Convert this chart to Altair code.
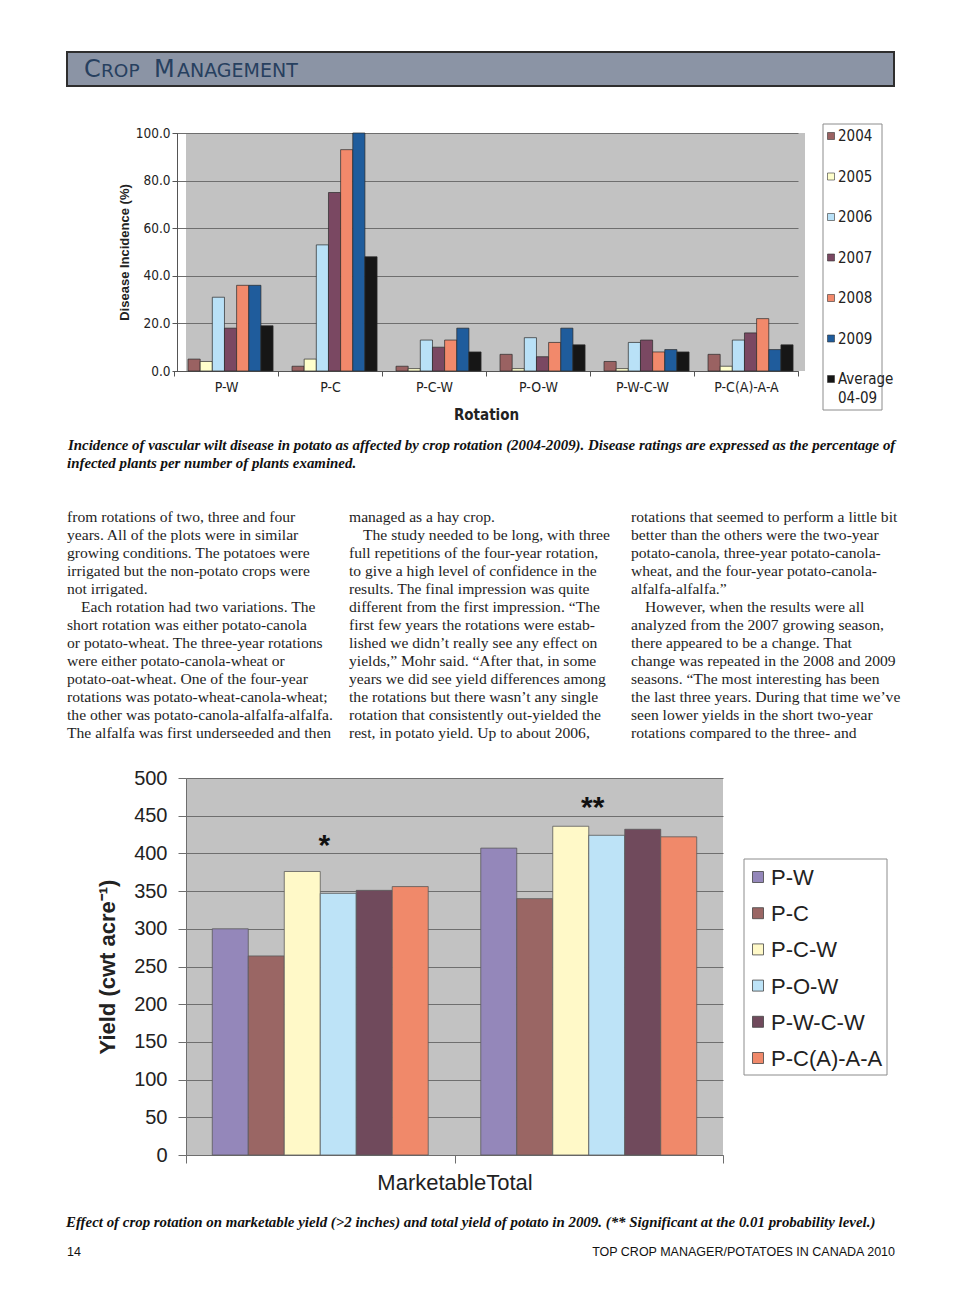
import altair as alt
import pandas as pd

# ---------------- data ----------------
rotations = ["P-W", "P-C", "P-C-W", "P-O-W", "P-W-C-W", "P-C(A)-A-A"]
years = ["2004", "2005", "2006", "2007", "2008", "2009", "Average 04-09"]
inc_2004 = [5, 2, 2, 7, 4, 7]
inc_2005 = [4, 5, 1, 1, 1, 2]
inc_2006 = [31, 53, 13, 14, 12, 13]
inc_2007 = [18, 75, 10, 6, 13, 16]
inc_2008 = [36, 93, 13, 12, 8, 22]
inc_2009 = [36, 100, 18, 18, 9, 9]
inc_avg = [19, 48, 8, 11, 8, 11]
incidence_ticks = [0, 20, 40, 60, 80, 100]

yield_groups = ["Marketable", "Total"]
yield_marketable = [300, 264, 376, 347, 351, 356]
yield_total = [407, 340, 436, 424, 432, 422]
yield_ticks = [0, 50, 100, 150, 200, 250, 300, 350, 400, 450, 500]
signif_labels = ["*", "**"]
signif_values = [398, 448]

header_parts = ["C", "ROP", "M", "ANAGEMENT"]
caption_top = [
    "Incidence of vascular wilt disease in potato as affected by crop rotation (2004-2009). Disease ratings are expressed as the percentage of",
    "infected plants per number of plants examined.",
]
caption_bottom = "Effect of crop rotation on marketable yield (>2 inches) and total yield of potato in 2009.  (** Significant at the 0.01 probability level.)"
footer_left = "14"
footer_right = "TOP CROP MANAGER/POTATOES IN CANADA 2010"

col1 = [
    "from rotations of two, three and four",
    "years. All of the plots were in similar",
    "growing conditions. The potatoes were",
    "irrigated but the non-potato crops were",
    "not irrigated.",
    "\tEach rotation had two variations. The",
    "short rotation was either potato-canola",
    "or potato-wheat. The three-year rotations",
    "were either potato-canola-wheat or",
    "potato-oat-wheat. One of the four-year",
    "rotations was potato-wheat-canola-wheat;",
    "the other was potato-canola-alfalfa-alfalfa.",
    "The alfalfa was first underseeded and then",
]
col2 = [
    "managed as a hay crop.",
    "\tThe study needed to be long, with three",
    "full repetitions of the four-year rotation,",
    "to give a high level of confidence in the",
    "results. The final impression was quite",
    "different from the first impression. \u201cThe",
    "first few years the rotations were estab-",
    "lished we didn\u2019t really see any effect on",
    "yields,\u201d Mohr said. \u201cAfter that, in some",
    "years we did see yield differences among",
    "the rotations but there wasn\u2019t any single",
    "rotation that consistently out-yielded the",
    "rest, in potato yield. Up to about 2006,",
]
col3 = [
    "rotations that seemed to perform a little bit",
    "better than the others were the two-year",
    "potato-canola, three-year potato-canola-",
    "wheat, and the four-year potato-canola-",
    "alfalfa-alfalfa.\u201d",
    "\tHowever, when the results were all",
    "analyzed from the 2007 growing season,",
    "there appeared to be a change. That",
    "change was repeated in the 2008 and 2009",
    "seasons. \u201cThe most interesting has been",
    "the last three years. During that time we\u2019ve",
    "seen lower yields in the short two-year",
    "rotations compared to the three- and",
]

# ---------------- styles ----------------
NARROW = "Liberation Sans Narrow, DejaVu Sans Condensed, Liberation Sans, Arial, sans-serif"
SANS = "Liberation Sans, Arial, sans-serif"
SERIF = "Liberation Serif, Times New Roman, serif"
HEAD = "DejaVu Sans, Liberation Sans, sans-serif"
top_colors = ["#9a6262", "#ffffcc", "#b9e1f7", "#7a4862", "#f2896b", "#1f5c9c", "#161616"]
yield_colors = ["#9487ba", "#9a6664", "#fff9c8", "#bde3f7", "#704a5c", "#f0896a"]
PLOT_BG = "#c2c2c2"
GRID = "#6e6e6e"
TEXT = "#222222"

# grid columns (page is 944 px wide inside the 8 px margin)
C0, C1, C2 = 178, 619, 147

one = pd.DataFrame({"k": [0]})


def spacer(w, h):
    return alt.Chart(one).mark_point(opacity=0, size=1).encode(
        x=alt.value(10), y=alt.value(10)).properties(width=w, height=h)


def txt(s, x, y, size, font=SANS, weight="normal", style="normal",
        color=TEXT, align="left", baseline="alphabetic"):
    return alt.Chart(one).mark_text(
        text=s, fontSize=size, font=font, fontWeight=weight, fontStyle=style,
        color=color, align=align, baseline=baseline,
    ).encode(x=alt.value(x), y=alt.value(y))


def box(x, x2, y, y2, fill, stroke, sw):
    return alt.Chart(one).mark_rect(fill=fill, stroke=stroke, strokeWidth=sw).encode(
        x=alt.value(x), x2=alt.value(x2), y=alt.value(y), y2=alt.value(y2))


# ---------------- row 0: header ----------------
HC = "#27405f"
H0 = 125
header = alt.layer(
    box(59, 886, 44, 78, "#8b94a5", "#2e2e2e", 2),
    txt(header_parts[0], 76, 69, 24, font=HEAD, color=HC),
    txt(header_parts[1], 93, 69, 18.5, font=HEAD, color=HC),
    txt(header_parts[2], 146, 69, 24, font=HEAD, color=HC),
    txt(header_parts[3], 169, 69, 19, font=HEAD, color=HC),
).properties(width=C0, height=H0)

# ---------------- row 1: incidence chart ----------------
H1 = 238
series = [inc_2004, inc_2005, inc_2006, inc_2007, inc_2008, inc_2009, inc_avg]
top_df = pd.DataFrame([
    {"rot": r, "year": y, "val": v}
    for y, vals in zip(years, series) for r, v in zip(rotations, vals)
])
top_color = alt.Scale(domain=years, range=top_colors)

top_chart = alt.Chart(top_df).mark_bar(stroke="#2a2a2a", strokeWidth=0.7).encode(
    x=alt.X("rot:N", sort=rotations,
            scale=alt.Scale(paddingInner=0, paddingOuter=0, range=[-12, 612]),
            axis=alt.Axis(title="Rotation", labelAngle=0, labelFont=NARROW,
                          labelFontSize=14, labelColor=TEXT, labelPadding=4,
                          tickBand="extent", tickSize=5, tickColor="#555",
                          domainColor="#555", titleFont=NARROW, titleFontSize=15,
                          titleFontWeight="bold", titleColor=TEXT, titlePadding=13)),
    xOffset=alt.XOffset("year:N", sort=years,
                        scale=alt.Scale(paddingInner=0, paddingOuter=0.78, align=0.74)),
    y=alt.Y("val:Q", scale=alt.Scale(domain=[0, 100], nice=False),
            axis=alt.Axis(values=incidence_ticks, tickCount=len(incidence_ticks),
                          format=".1f", grid=True, offset=9,
                          gridColor=GRID, gridWidth=1, domainColor="#555",
                          tickColor="#555", tickSize=5, labelFont=NARROW,
                          labelFontSize=13.5, labelColor=TEXT, labelPadding=2,
                          labelOverlap=False,
                          title="Disease Incidence (%)", titleFont=SANS,
                          titleFontSize=13, titleFontWeight="bold",
                          titleColor=TEXT, titlePadding=4)),
    color=alt.Color("year:N", sort=years, scale=top_color, legend=None),
).properties(width=C1, height=H1,
             view=alt.ViewBackground(fill=PLOT_BG, stroke=None))

leg1_df = pd.DataFrame({"year": years, "label": [y.replace(" ", "\n") for y in years]})
leg1_y = alt.Y("year:N", sort=years,
               scale=alt.Scale(type="point", domain=years, range=[3, 246], padding=0),
               axis=None)
top_legend = alt.layer(
    box(18, 77, -9, 277, "white", "#8c8c8c", 1),
    alt.Chart(leg1_df).mark_square(size=49, opacity=1, stroke="#333", strokeWidth=0.6).encode(
        x=alt.value(26), y=leg1_y,
        color=alt.Color("year:N", sort=years, scale=top_color, legend=None)),
    alt.Chart(leg1_df).mark_text(align="left", baseline="top", dy=-7, font=NARROW,
                                 fontSize=15, lineBreak="\n", lineHeight=19,
                                 color=TEXT).encode(
        x=alt.value(33), y=leg1_y, text="label:N"),
).properties(width=C2, height=H1)

# ---------------- row 2: caption + body text ----------------
H2 = 407
COL_X = [59, 341, 623]
BODY_Y0 = 151
BODY_LH = 18
body_rows = []
for ci, col in enumerate([col1, col2, col3]):
    for li, line in enumerate(col):
        ind = line.startswith("\t")
        body_rows.append({"t": line.lstrip("\t"),
                          "px": COL_X[ci] + (14 if ind else 0),
                          "py": BODY_Y0 + li * BODY_LH})
body_df = pd.DataFrame(body_rows)

body = alt.Chart(body_df).mark_text(
    align="left", baseline="alphabetic", font=SERIF, fontSize=15.6, color="#1e1e1e"
).encode(x=alt.X("px:Q", scale=None), y=alt.Y("py:Q", scale=None), text="t:N")

text_block = alt.layer(
    txt(caption_top[0], 60, 78.5, 14.9, font=SERIF, weight="bold", style="italic", color="#111"),
    txt(caption_top[1], 59, 96.5, 14.9, font=SERIF, weight="bold", style="italic", color="#111"),
    body,
).properties(width=C0, height=H2)

# ---------------- row 3: yield chart ----------------
H3 = 377
ydf = pd.DataFrame([
    {"grp": g, "rot": r, "val": v}
    for g, vals in zip(yield_groups, [yield_marketable, yield_total])
    for r, v in zip(rotations, vals)
])
yield_color = alt.Scale(domain=rotations, range=yield_colors)
x_grp = alt.X("grp:N", sort=yield_groups, scale=alt.Scale(paddingInner=0, paddingOuter=0),
              axis=alt.Axis(labels=False, title="MarketableTotal", tickBand="extent",
                            tickSize=8, tickColor=GRID, domainColor=GRID,
                            titleFont=SANS, titleFontSize=22, titleFontWeight="normal",
                            titleColor=TEXT, titlePadding=9, grid=False))
y_val = alt.Y("val:Q", scale=alt.Scale(domain=[0, 500], nice=False),
              axis=alt.Axis(values=yield_ticks, tickCount=len(yield_ticks),
                            grid=True, gridColor=GRID, gridWidth=1,
                            domainColor=GRID, tickColor=GRID, tickSize=8,
                            labelFont=SANS, labelFontSize=20, labelColor=TEXT,
                            labelPadding=11, labelOverlap=False,
                            title="Yield (cwt acre\u207b\u00b9)",
                            titleFont=SANS, titleFontSize=22, titleFontWeight="bold",
                            titleColor=TEXT, titlePadding=14))
bars = alt.Chart(ydf).mark_bar(stroke="#5a5a5a", strokeWidth=0.8).encode(
    x=x_grp,
    xOffset=alt.XOffset("rot:N", sort=rotations,
                        scale=alt.Scale(paddingInner=0, paddingOuter=0.73)),
    y=y_val,
    color=alt.Color("rot:N", sort=rotations, scale=yield_color, legend=None),
)
sig_df = pd.DataFrame({"grp": yield_groups, "sig": signif_labels, "val": signif_values})
stars = alt.Chart(sig_df).mark_text(font=SANS, fontSize=30, fontWeight="bold",
                                    baseline="alphabetic", color="#111", dx=4).encode(
    x=alt.X("grp:N", sort=yield_groups), y="val:Q", text="sig:N")
yield_chart = alt.layer(bars, stars).properties(
    width=537, height=H3, view=alt.ViewBackground(fill=PLOT_BG, stroke=None))

leg2_df = pd.DataFrame({"rot": rotations})
leg2_y = alt.Y("rot:N", sort=rotations,
               scale=alt.Scale(type="point", domain=rotations, range=[99, 280], padding=0),
               axis=None)
yield_legend = alt.layer(
    box(-61, 82, 81, 297, "white", "#8c8c8c", 1),
    alt.Chart(leg2_df).mark_square(size=121, opacity=1, stroke="#444", strokeWidth=0.8).encode(
        x=alt.value(-47), y=leg2_y,
        color=alt.Color("rot:N", sort=rotations, scale=yield_color, legend=None)),
    alt.Chart(leg2_df).mark_text(align="left", baseline="middle", dy=1, font=SANS,
                                 fontSize=22, color=TEXT).encode(
        x=alt.value(-34), y=leg2_y, text="rot:N"),
).properties(width=C2, height=H3)

# ---------------- row 4: caption + footer ----------------
H4 = 110
footer = alt.layer(
    txt(caption_bottom, 58, 71.5, 14.9, font=SERIF, weight="bold", style="italic", color="#111"),
    txt(footer_left, 59, 100.5, 12.5, font=SANS, color="#111"),
    txt(footer_right, 887, 100.5, 12.5, font=SANS, color="#111", align="right"),
).properties(width=C0, height=H4)

cells = [
    header, spacer(C1, H0), spacer(C2, H0),
    spacer(C0, H1), top_chart, top_legend,
    text_block, spacer(C1, H2), spacer(C2, H2),
    spacer(C0, H3), yield_chart, yield_legend,
    footer, spacer(C1, H4), spacer(C2, H4),
]

chart = alt.concat(*cells, columns=3, spacing=0, bounds="flush", align="each").resolve_scale(
    color="independent", xOffset="independent"
).properties(padding=0, background="white").configure_view(stroke=None)

chart.save("out.html", embed_options={"renderer": "svg", "actions": False})
